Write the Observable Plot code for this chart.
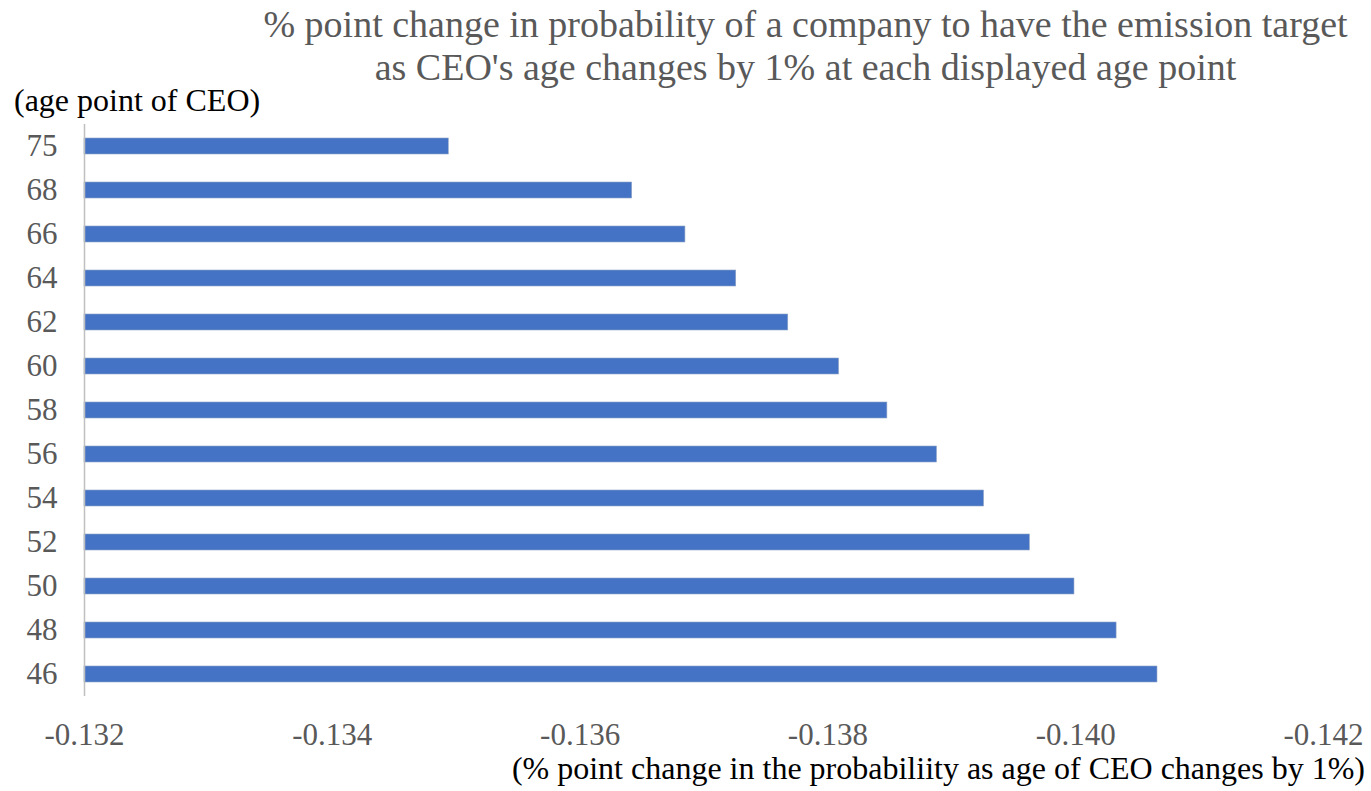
<!DOCTYPE html>
<html>
<head>
<meta charset="utf-8">
<script src="https://cdn.jsdelivr.net/npm/d3@7"></script>
<script src="https://cdn.jsdelivr.net/npm/@observablehq/plot@0.6"></script>
<style>
  html, body { margin: 0; padding: 0; background: #fff; }
  #wrap { position: relative; width: 1371px; height: 791px; font-family: "Liberation Serif", "Times New Roman", serif; }
  #wrap svg { position: absolute; left: 0; top: 0; }
  .title { position: absolute; left: 240px; width: 1131px; text-align: center; color: #595959; font-size: 38px; line-height: 43px; top: 3px; white-space: nowrap; }
  .ylab { position: absolute; left: 14px; top: 82px; font-size: 32px; color: #000; white-space: nowrap; }
  .xlab { position: absolute; right: 6px; top: 750px; font-size: 32px; color: #000; white-space: nowrap; }
</style>
</head>
<body>
<div id="wrap">
  <div class="title">% point change in probability of a company to have the emission target<br>as CEO's age changes by 1% at each displayed age point</div>
  <div class="ylab">(age point of CEO)</div>
  <div class="xlab">(% point change in the probabiliity as age of CEO changes by 1%)</div>
</div>
<script>
// CEO age points, top to bottom
const ages = [75, 68, 66, 64, 62, 60, 58, 56, 54, 52, 50, 48, 46];
// % point change in probability of having an emission target per 1% change in CEO age
const effects = [-0.13494, -0.13642, -0.13685, -0.13726, -0.13768, -0.13809, -0.13848,
                 -0.13888, -0.13926, -0.13963, -0.13999, -0.14033, -0.14066];
// x-axis ticks (axis runs from -0.132 on the left to -0.142 on the right)
const xTicks = [-0.132, -0.134, -0.136, -0.138, -0.140, -0.142];

const data = ages.map((age, i) => ({age: String(age), value: effects[i]}));
const base = xTicks[0];

const chart = Plot.plot({
  width: 1371,
  height: 791,
  marginLeft: 84,
  marginRight: 48,
  marginTop: 124,
  marginBottom: 95,
  style: {fontFamily: "'Liberation Serif', 'Times New Roman', serif", background: "transparent"},
  x: {domain: [xTicks[0], xTicks[xTicks.length - 1]], ticks: xTicks, tickFormat: d => d.toFixed(3), label: null},
  y: {domain: ages.map(String), paddingInner: 0.64, paddingOuter: 0.32, label: null},
  marks: [
    Plot.barX(data, {y: "age", x1: () => base, x2: "value", fill: "#4472C4", stroke: "#8fa3c4", strokeWidth: 0.6}),
    Plot.ruleX([base], {stroke: "#bfbfbf", strokeWidth: 1.5}),
    Plot.axisX({ticks: xTicks, tickFormat: d => d.toFixed(3), tickSize: 0, tickPadding: 26, fontSize: 31, fill: "#595959", label: null}),
    Plot.axisY({tickSize: 0, tickPadding: 27, fontSize: 31, fill: "#595959", label: null})
  ]
});
document.getElementById("wrap").prepend(chart);
</script>
</body>
</html>
